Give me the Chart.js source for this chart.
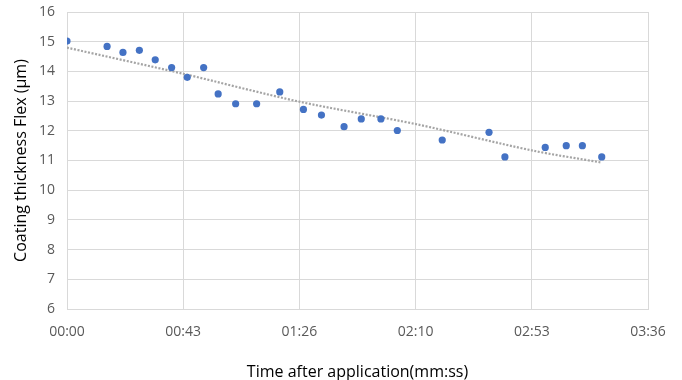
<!DOCTYPE html>
<html>
<head>
<meta charset="utf-8">
<script src="https://cdn.jsdelivr.net/npm/chart.js@4/dist/chart.umd.min.js"></script>
<style>
html,body{margin:0;padding:0;background:#fff;}
#wrap{width:682px;height:380px;position:relative;}
</style>
</head>
<body>
<div id="wrap"><canvas id="c" width="682" height="380"></canvas></div>
<script>
// time after application in seconds
const timeSec = [0, 14.9, 20.8, 26.9, 32.8, 38.9, 44.7, 50.8, 56.2, 62.7, 70.5, 79.1, 87.9, 94.6,
                 103.0, 109.4, 116.7, 122.8, 139.5, 156.9, 162.8, 177.8, 185.6, 191.6, 198.8];
const thickness = [15.02, 14.84, 14.64, 14.71, 14.39, 14.13, 13.80, 14.13, 13.24, 12.91, 12.91, 13.31, 12.72, 12.53,
                   12.14, 12.40, 12.40, 12.01, 11.69, 11.95, 11.12, 11.44, 11.50, 11.50, 11.12];
// trendline
const trendTime = [0, 43.2, 86.4, 130, 172.8, 198.8];
const trendValue = [14.80, 13.92, 12.98, 12.22, 11.34, 10.93];
const xTickValues = [0, 43.2, 86.4, 129.6, 172.8, 216];
const xTickLabels = ['00:00', '00:43', '01:26', '02:10', '02:53', '03:36'];
const yTickValues = [6, 7, 8, 9, 10, 11, 12, 13, 14, 15, 16];

const pts = timeSec.map((t, i) => ({x: t, y: thickness[i]}));
const trend = trendTime.map((t, i) => ({x: t, y: trendValue[i]}));

new Chart(document.getElementById('c'), {
  type: 'scatter',
  data: {
    datasets: [
      {
        type: 'line',
        data: trend,
        borderColor: '#A5A5A5',
        borderWidth: 2.2,
        borderDash: [2, 1.6],
        pointRadius: 0,
        fill: false,
        tension: 0.3,
        order: 2
      },
      {
        data: pts,
        backgroundColor: '#4472C4',
        borderColor: '#4472C4',
        borderWidth: 0,
        pointRadius: 3.6,
        order: 1
      }
    ]
  },
  options: {
    responsive: false,
    animation: false,
    devicePixelRatio: 1,
    layout: {padding: {left: 0, right: 34, top: 12, bottom: 0}},
    plugins: {legend: {display: false}, tooltip: {enabled: false}},
    scales: {
      x: {
        type: 'linear',
        min: 0, max: 216,
        afterBuildTicks: s => { s.ticks = xTickValues.map(v => ({value: v})); },
        afterFit: s => { s.height = 71; s.paddingLeft = 0; s.paddingRight = 0; },
        grid: {color: '#D9D9D9', lineWidth: 1, drawTicks: false},
        border: {color: '#D9D9D9'},
        ticks: {
          padding: 15,
          color: '#595959',
          font: {family: 'Open Sans', size: 14},
          maxRotation: 0,
          autoSkip: false,
          callback: (v, i) => xTickLabels[i]
        },
        title: {
          display: true,
          text: 'Time after application(mm:ss)',
          color: '#000',
          font: {family: 'Open Sans', size: 16},
          padding: {top: 0, bottom: -2}
        }
      },
      y: {
        min: 6, max: 16,
        afterBuildTicks: s => { s.ticks = yTickValues.map(v => ({value: v})); },
        afterFit: s => { s.width = 67; s.paddingTop = 0; s.paddingBottom = 0; },
        grid: {color: '#D9D9D9', lineWidth: 1, drawTicks: false},
        border: {color: '#D9D9D9'},
        ticks: {
          padding: 12,
          color: '#595959',
          font: {family: 'Open Sans', size: 14}
        },
        title: {
          display: true,
          text: 'Coating thickness Flex (µm)',
          color: '#000',
          font: {family: 'Open Sans', size: 16},
          padding: {top: 12, bottom: 0}
        }
      }
    }
  }
});
</script>
</body>
</html>
